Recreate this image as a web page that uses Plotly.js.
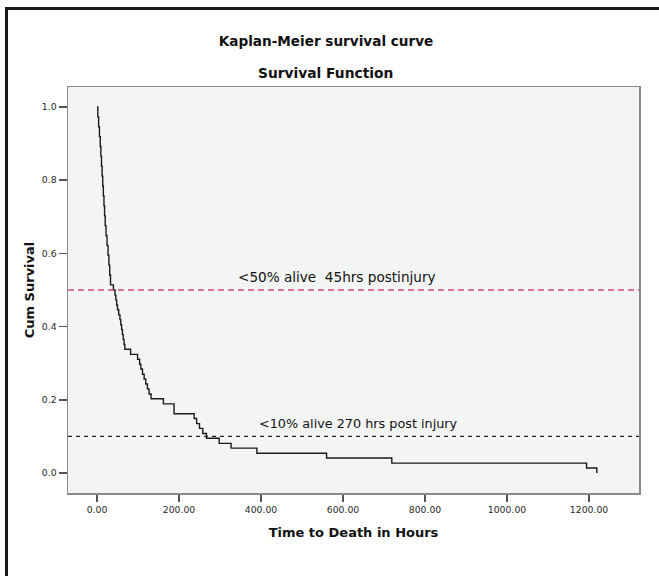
<!DOCTYPE html>
<html>
<head>
<meta charset="utf-8">
<script src="https://cdn.plot.ly/plotly-3.0.1.min.js"></script>
<style>
  html, body { margin: 0; padding: 0; background: #ffffff; }
  #wrap { position: relative; width: 659px; height: 576px; overflow: hidden; }
  #chart { position: absolute; left: 0; top: 0; width: 659px; height: 576px; }
  #frame { position: absolute; left: 5px; top: 7px; width: 651px; height: 620px;
           border-left: 3px solid #1a1a1a; border-top: 3px solid #1a1a1a; border-right: 1px solid #cfcfcf;
           pointer-events: none; }
</style>
</head>
<body>
<div id="wrap">
  <div id="chart"></div>
  <div id="frame"></div>
</div>
<script>
// Kaplan-Meier estimate (time in hours, cumulative survival)
const hours = [0, 2, 4, 6, 8, 9.5, 11, 12.5, 14, 15.5, 17, 18.5, 20, 22, 24.5, 27, 29, 31, 33, 40, 44,
  46, 48, 50, 53, 56, 58, 60, 62, 64, 66, 68, 82, 99, 104, 107, 111, 115, 119, 123, 127, 132,
  162, 188, 237, 243, 250, 258, 267, 298, 327, 390, 560, 719, 1194, 1219];
const survival = [1.000, 0.973, 0.946, 0.919, 0.892, 0.865, 0.838, 0.811, 0.784, 0.757, 0.730, 0.703, 0.676,
  0.649, 0.622, 0.595, 0.568, 0.541, 0.514, 0.500, 0.486, 0.473, 0.459, 0.446, 0.432, 0.419, 0.405, 0.392,
  0.378, 0.365, 0.351, 0.338, 0.324, 0.311, 0.297, 0.284, 0.270, 0.257, 0.243, 0.230, 0.216, 0.203,
  0.189, 0.162, 0.149, 0.135, 0.122, 0.108, 0.095, 0.081, 0.068, 0.054, 0.041, 0.027, 0.0135, 0.000];

const xTickVals = [0, 200, 400, 600, 800, 1000, 1200];
const xTickText = ["0.00", "200.00", "400.00", "600.00", "800.00", "1000.00", "1200.00"];
const yTickVals = [0, 0.2, 0.4, 0.6, 0.8, 1.0];
const yTickText = ["0.0", "0.2", "0.4", "0.6", "0.8", "1.0"];

const medianLevel = 0.5;
const tenLevel = 0.1;
const medianLabel = "<50% alive  45hrs postinjury";
const tenLabel = "<10% alive 270 hrs post injury";

const FONT = "DejaVu Sans, Liberation Sans, Arial, sans-serif";

const trace = {
  x: hours, y: survival, type: "scatter", mode: "lines",
  line: { shape: "hv", color: "#1a1a1a", width: 1.4 },
  hoverinfo: "x+y", showlegend: false
};

const layout = {
  width: 659, height: 576,
  margin: { l: 68, r: 20, t: 87, b: 83 },
  paper_bgcolor: "rgba(0,0,0,0)",
  plot_bgcolor: "#f3f5f4",
  font: { family: FONT, color: "#111" },
  title: {
    text: "<b>Kaplan-Meier survival curve</b>",
    font: { family: FONT, size: 13.6, color: "#111" },
    xref: "container", x: 326 / 659, xanchor: "center",
    yref: "container", y: 1 - 41 / 576, yanchor: "middle"
  },
  xaxis: {
    range: [-70.7, 1321.9],
    tickmode: "array", tickvals: xTickVals, ticktext: xTickText,
    ticks: "outside", ticklen: 7, tickwidth: 1.5, tickcolor: "#555",
    tickfont: { family: FONT, size: 9.3, color: "#2a2a2a" },
    showline: true, mirror: true, linecolor: "#8a8a8a", linewidth: 1.5,
    showgrid: false, zeroline: false,
    title: { text: "<b>Time to Death in Hours</b>", font: { family: FONT, size: 13, color: "#111" }, standoff: 14 }
  },
  yaxis: {
    range: [-0.0546, 1.0546],
    tickmode: "array", tickvals: yTickVals, ticktext: yTickText,
    ticks: "outside", ticklen: 8, tickwidth: 1.5, tickcolor: "#555",
    tickfont: { family: FONT, size: 9.3, color: "#2a2a2a" },
    showline: true, mirror: true, linecolor: "#8a8a8a", linewidth: 1.5,
    showgrid: false, zeroline: false,
    title: { text: "<b>Cum Survival</b>", font: { family: FONT, size: 13, color: "#111" }, standoff: 4 }
  },
  shapes: [
    { type: "line", xref: "paper", x0: 0, x1: 1, yref: "y", y0: medianLevel, y1: medianLevel,
      line: { color: "#d6457e", width: 1.3, dash: "6px,4px" } },
    { type: "line", xref: "paper", x0: 0, x1: 1, yref: "y", y0: tenLevel, y1: tenLevel,
      line: { color: "#222", width: 1.2, dash: "4px,4px" } }
  ],
  annotations: [
    { text: "<b>Survival Function</b>", xref: "paper", yref: "paper",
      x: (325 - 68) / 571, y: (493 - 73) / 406, xanchor: "center", yanchor: "middle",
      showarrow: false, font: { family: FONT, size: 13.8, color: "#111" } },
    { text: medianLabel, xref: "x", yref: "y", x: 340, y: 0.536, xanchor: "left", yanchor: "middle",
      showarrow: false, font: { family: FONT, size: 13.6, color: "#111" } },
    { text: tenLabel, xref: "x", yref: "y", x: 390, y: 0.135, xanchor: "left", yanchor: "middle",
      showarrow: false, font: { family: FONT, size: 12.8, color: "#111" } }
  ]
};

Plotly.newPlot("chart", [trace], layout, { staticPlot: true, displayModeBar: false });
</script>
</body>
</html>
